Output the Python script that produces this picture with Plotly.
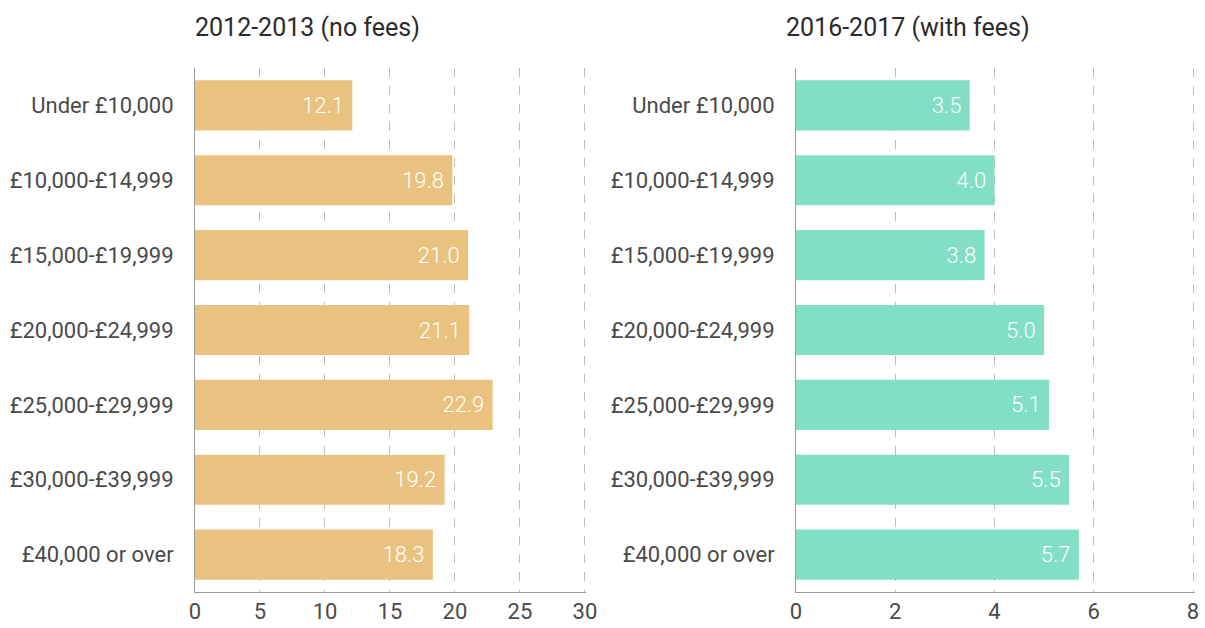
import plotly.graph_objects as go

categories = ["Under £10,000", "£10,000-£14,999", "£15,000-£19,999", "£20,000-£24,999",
              "£25,000-£29,999", "£30,000-£39,999", "£40,000 or over"]
values_2012 = [12.1, 19.8, 21.0, 21.1, 22.9, 19.2, 18.3]
values_2016 = [3.5, 4.0, 3.8, 5.0, 5.1, 5.5, 5.7]
title_2012 = "2012-2013 (no fees)"
title_2016 = "2016-2017 (with fees)"
ticks_2012 = [0, 5, 10, 15, 20, 25, 30]
ticks_2016 = [0, 2, 4, 6, 8]

W, H = 1205, 628
FONT = "Roboto"
PAD = "\u00a0"

fig = go.Figure()
fig.add_trace(go.Bar(
    y=categories, x=values_2012, orientation="h", marker=dict(color="#E9C280", line=dict(width=0)),
    width=0.67, text=[f"{v:.1f}{PAD}" for v in values_2012], textposition="inside",
    insidetextanchor="end", textfont=dict(color="white", size=22, family=FONT, weight=300),
    xaxis="x", yaxis="y", hoverinfo="skip", cliponaxis=False))
fig.add_trace(go.Bar(
    y=categories, x=values_2016, orientation="h", marker=dict(color="#82DEC4", line=dict(width=0)),
    width=0.67, text=[f"{v:.1f}{PAD}" for v in values_2016], textposition="inside",
    insidetextanchor="end", textfont=dict(color="white", size=22, family=FONT, weight=300),
    xaxis="x2", yaxis="y2", hoverinfo="skip", cliponaxis=False))

common_x = dict(showgrid=True, gridcolor="#BDBDBD", griddash="dash", gridwidth=1,
                zeroline=False, showline=True, linecolor="#9E9E9E", linewidth=1,
                ticks="", tickfont=dict(size=22, color="#4a4a4a", family=FONT),
                automargin=False, fixedrange=True)
common_y = dict(autorange=False, range=[6.5, -0.5], showgrid=False, zeroline=False,
                showline=True, linecolor="#9E9E9E", linewidth=1, ticks="",
                tickfont=dict(size=22, color="#4a4a4a", family=FONT), ticklabelstandoff=16,
                automargin=False, fixedrange=True)

fig.update_layout(
    width=W, height=H, showlegend=False, plot_bgcolor="white", paper_bgcolor="white",
    margin=dict(l=0, r=0, t=68, b=36),
    font=dict(family=FONT, color="#333333"),
    uniformtext=dict(mode="show", minsize=8),
    xaxis=dict(domain=[195 / W, 586 / W], range=[0, 30.08], tickvals=ticks_2012, anchor="y", **common_x),
    yaxis=dict(anchor="x", **common_y),
    xaxis2=dict(domain=[796 / W, 1195 / W], range=[0, 8.04], tickvals=ticks_2016, anchor="y2", **common_x),
    yaxis2=dict(anchor="x2", **common_y),
    annotations=[
        dict(text=title_2012, x=193 / W, y=1 + 41 / 524, xref="paper", yref="paper",
             xanchor="left", yanchor="middle", showarrow=False,
             font=dict(size=25, color="#2b2b2b", family=FONT)),
        dict(text=title_2016, x=784 / W, y=1 + 41 / 524, xref="paper", yref="paper",
             xanchor="left", yanchor="middle", showarrow=False,
             font=dict(size=25, color="#2b2b2b", family=FONT)),
    ],
)

fig.write_html("out.html", config={"displayModeBar": False},
               post_script="document.body.style.margin='0';document.body.style.overflow='hidden';")
